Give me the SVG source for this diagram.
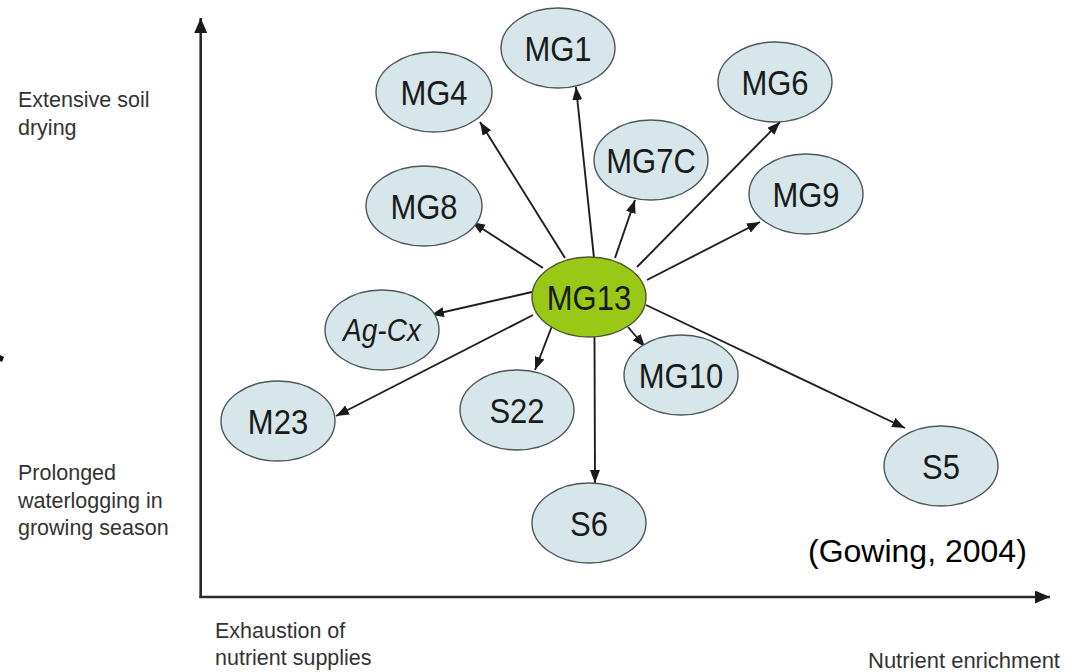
<svg xmlns="http://www.w3.org/2000/svg" width="1079" height="672" viewBox="0 0 1079 672">
<defs>
<marker id="ah" markerUnits="userSpaceOnUse" markerWidth="14" markerHeight="12" refX="13" refY="5" orient="auto">
<path d="M0,0 L13,5 L0,10 z" fill="#1a1a1a"/>
</marker>
<marker id="axh" markerUnits="userSpaceOnUse" markerWidth="16" markerHeight="14" refX="15" refY="6.5" orient="auto">
<path d="M0,0 L15,6.5 L0,13 z" fill="#1a1a1a"/>
</marker>
</defs>
<style>
.n ellipse{fill:#d6e6ea;stroke:#4d5659;stroke-width:1.4}
#MG13 ellipse{fill:#99c916;stroke:#4a5a2a}
.n text{font-family:"Liberation Sans",Arial,sans-serif;font-size:31px;fill:#1a1a1a;text-anchor:middle}
.lbl{font-family:"Liberation Sans",Arial,sans-serif;font-size:21.5px;fill:#333}
.c line{stroke:#1e1e1e;stroke-width:1.9;marker-end:url(#ah)}
.ax{stroke:#2a2a2a;stroke-width:2.6;fill:none;marker-end:url(#axh)}
</style>
<rect width="1079" height="672" fill="#fff"/>
<g id="axes">
<line class="ax" x1="200.7" y1="598" x2="200.7" y2="18"/>
<line class="ax" x1="199.4" y1="597" x2="1050" y2="597"/>
</g>
<g id="axis-labels">
<text class="lbl" x="18" y="107">Extensive soil</text>
<text class="lbl" x="18" y="135">drying</text>
<text class="lbl" x="18" y="480">Prolonged</text>
<text class="lbl" x="18" y="508">waterlogging in</text>
<text class="lbl" x="18" y="535">growing season</text>
<text class="lbl" x="215" y="638">Exhaustion of</text>
<text class="lbl" x="215" y="665">nutrient supplies</text>
<text class="lbl" x="868" y="668" style="font-size:22px">Nutrient enrichment</text>
</g>
<polygon points="0,355 4,357 2,362 0,361" fill="#111"/>
<g id="connectors" class="c">
<line x1="594" y1="258" x2="576" y2="87"/>
<line x1="565" y1="258" x2="480" y2="122"/>
<line x1="615" y1="258" x2="635" y2="200"/>
<line x1="637" y1="267" x2="780" y2="122"/>
<line x1="647" y1="280" x2="760" y2="222"/>
<line x1="543" y1="268" x2="472" y2="222"/>
<line x1="532" y1="292" x2="431" y2="315"/>
<line x1="533" y1="315" x2="336" y2="416"/>
<line x1="552" y1="326" x2="535" y2="370"/>
<line x1="594.5" y1="337" x2="595" y2="483"/>
<line x1="628" y1="327" x2="645" y2="347"/>
<line x1="646" y1="305" x2="905" y2="428"/>
</g>
<g id="MG1" class="n"><ellipse cx="558" cy="48" rx="57" ry="40"/><text transform="translate(558,48) scale(1,1.14)" dy="0.36em">MG1</text></g>
<g id="MG4" class="n"><ellipse cx="434" cy="92" rx="58" ry="40"/><text transform="translate(434,92) scale(1,1.14)" dy="0.36em">MG4</text></g>
<g id="MG6" class="n"><ellipse cx="775" cy="82" rx="57" ry="40"/><text transform="translate(775,82) scale(1,1.14)" dy="0.36em">MG6</text></g>
<g id="MG7C" class="n"><ellipse cx="651" cy="160" rx="57" ry="40"/><text transform="translate(651,160) scale(1,1.14)" dy="0.36em">MG7C</text></g>
<g id="MG8" class="n"><ellipse cx="424" cy="206" rx="58" ry="40"/><text transform="translate(424,206) scale(1,1.14)" dy="0.36em">MG8</text></g>
<g id="MG9" class="n"><ellipse cx="806" cy="194" rx="57" ry="40"/><text transform="translate(806,194) scale(1,1.14)" dy="0.36em">MG9</text></g>
<g id="MG13" class="n"><ellipse cx="589" cy="297" rx="57" ry="40"/><text transform="translate(589,297) scale(1,1.14)" dy="0.36em">MG13</text></g>
<g id="AgCx" class="n"><ellipse cx="382" cy="330" rx="57" ry="40"/><text transform="translate(382,330) scale(1,1.14)" dy="0.36em" style="font-style:italic;font-size:28px">Ag-Cx</text></g>
<g id="M23" class="n"><ellipse cx="278" cy="421" rx="57" ry="40"/><text transform="translate(278,421) scale(1,1.14)" dy="0.36em">M23</text></g>
<g id="S22" class="n"><ellipse cx="517" cy="410" rx="57" ry="40"/><text transform="translate(517,410) scale(1,1.14)" dy="0.36em">S22</text></g>
<g id="MG10" class="n"><ellipse cx="681" cy="375" rx="57" ry="40"/><text transform="translate(681,375) scale(1,1.14)" dy="0.36em">MG10</text></g>
<g id="S6" class="n"><ellipse cx="589" cy="523" rx="57" ry="40"/><text transform="translate(589,523) scale(1,1.14)" dy="0.36em">S6</text></g>
<g id="S5" class="n"><ellipse cx="941" cy="466" rx="57" ry="40"/><text transform="translate(941,466) scale(1,1.14)" dy="0.36em">S5</text></g>
<text x="808" y="562" style="font-family:'Liberation Sans',Arial,sans-serif;font-size:32px;fill:#000">(Gowing, 2004)</text>
</svg>
